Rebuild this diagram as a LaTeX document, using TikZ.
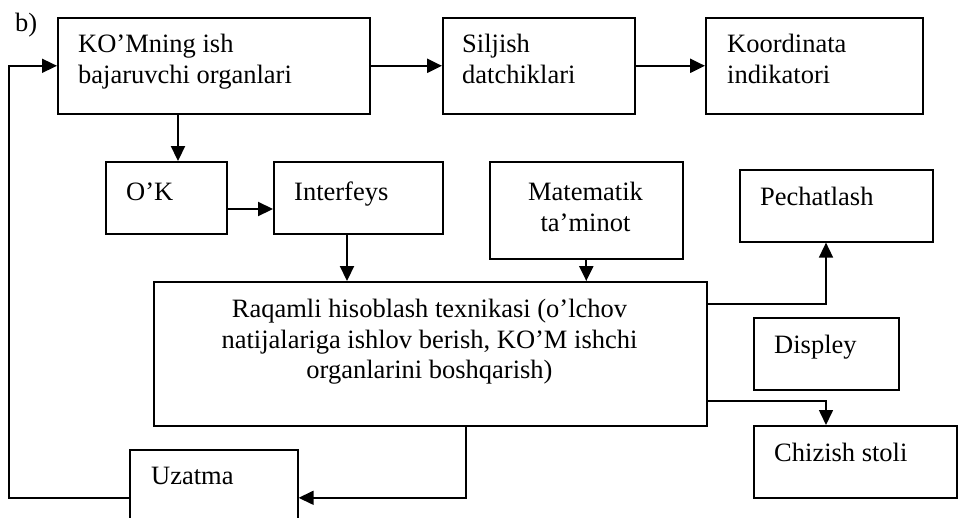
\documentclass[tikz,border=0pt]{standalone}
\usepackage{fontspec}
\setmainfont{Liberation Serif}
\usetikzlibrary{arrows.meta}
\begin{document}
\begin{tikzpicture}[x=1pt,y=-1pt,
  box/.style={draw,line width=1.6pt,inner sep=0pt,anchor=north west},
  lbl/.style={anchor=base west,inner sep=0pt,font=\fontsize{26.5}{30.5}\selectfont},
  clbl/.style={anchor=base,inner sep=0pt,font=\fontsize{26.5}{30.5}\selectfont},
  arr/.style={line width=2.2pt,-{Triangle[length=15pt,width=14pt]}}]
\useasboundingbox (0,0) rectangle (958,517);
\clip (0,0) rectangle (958,517);
% boxes
\node[box,minimum width=312pt,minimum height=96pt] (kom) at (57,17) {};
\node[box,minimum width=192pt,minimum height=96pt] (sil) at (442,17) {};
\node[box,minimum width=217pt,minimum height=96pt] (koo) at (705,17) {};
\node[box,minimum width=121pt,minimum height=72pt] (ok) at (105,161) {};
\node[box,minimum width=169pt,minimum height=72pt] (intf) at (273,161) {};
\node[box,minimum width=193pt,minimum height=97pt] (mat) at (489,161) {};
\node[box,minimum width=193pt,minimum height=72pt] (pec) at (739,169) {};
\node[box,minimum width=553pt,minimum height=144pt] (rh) at (153,281) {};
\node[box,minimum width=145pt,minimum height=72pt] (dis) at (753,317) {};
\node[box,minimum width=203pt,minimum height=72pt] (chz) at (753,425) {};
\node[box,minimum width=168pt,minimum height=96pt] (uz) at (129,449) {};
% texts
\node[lbl] (tb) at (15,31) {b)};
\node[lbl] (kom1) at (78,52.5) {KO’Mning ish};
\node[lbl] (kom2) at (78,83) {bajaruvchi organlari};
\node[lbl] (sil1) at (462,52.5) {Siljish};
\node[lbl] (sil2) at (462,83) {datchiklari};
\node[lbl] (koo1) at (727,52.5) {Koordinata};
\node[lbl] (koo2) at (727,83) {indikatori};
\node[lbl] (ok1) at (126,200.5) {O’K};
\node[lbl] (int1) at (294,200.5) {Interfeys};
\node[clbl] (mat1) at (585.5,200.5) {Matematik};
\node[clbl] (mat2) at (585.5,231) {ta’minot};
\node[lbl] (pec1) at (760,205.5) {Pechatlash};
\node[clbl] (rh1) at (429.5,317.5) {Raqamli hisoblash texnikasi (o’lchov};
\node[clbl] (rh2) at (429.5,348) {natijalariga ishlov berish, KO’M ishchi};
\node[clbl] (rh3) at (429.5,378.5) {organlarini boshqarish)};
\node[lbl] (dis1) at (774,353.5) {Displey};
\node[lbl] (chz1) at (774,461.5) {Chizish stoli};
\node[lbl] (uz1) at (151,484.5) {Uzatma};
% helper coordinates
\coordinate (xa) at (178,0);
\coordinate (xb) at (347,0);
\coordinate (xc) at (826,0);
\coordinate (xd) at (466,0);
\coordinate (xl) at (9,0);
\coordinate (y0) at (0,209);
\coordinate (ya) at (0,304);
\coordinate (yb) at (0,401);
% connectors
\draw[arr] (kom) -- (sil);
\draw[arr] (sil) -- (koo);
\draw[arr] (kom.south -| xa) -- (ok.north -| xa);
\draw[arr] (ok.east |- y0) -- (intf.west |- y0);
\draw[arr] (intf.south -| xb) -- (rh.north -| xb);
\draw[arr] (mat.south) -- (rh.north -| mat.south);
\draw[arr,line width=1.6pt] (rh.east |- ya) -| (pec.south -| xc);
\draw[arr,line width=1.6pt] (rh.east |- yb) -| (chz.north -| xc);
\draw[arr,line width=1.6pt] (rh.south -| xd) |- (uz.east);
\draw[arr,line width=1.6pt] (uz.west) -| (xl |- kom.west) -- (kom.west);
\end{tikzpicture}
\end{document}
